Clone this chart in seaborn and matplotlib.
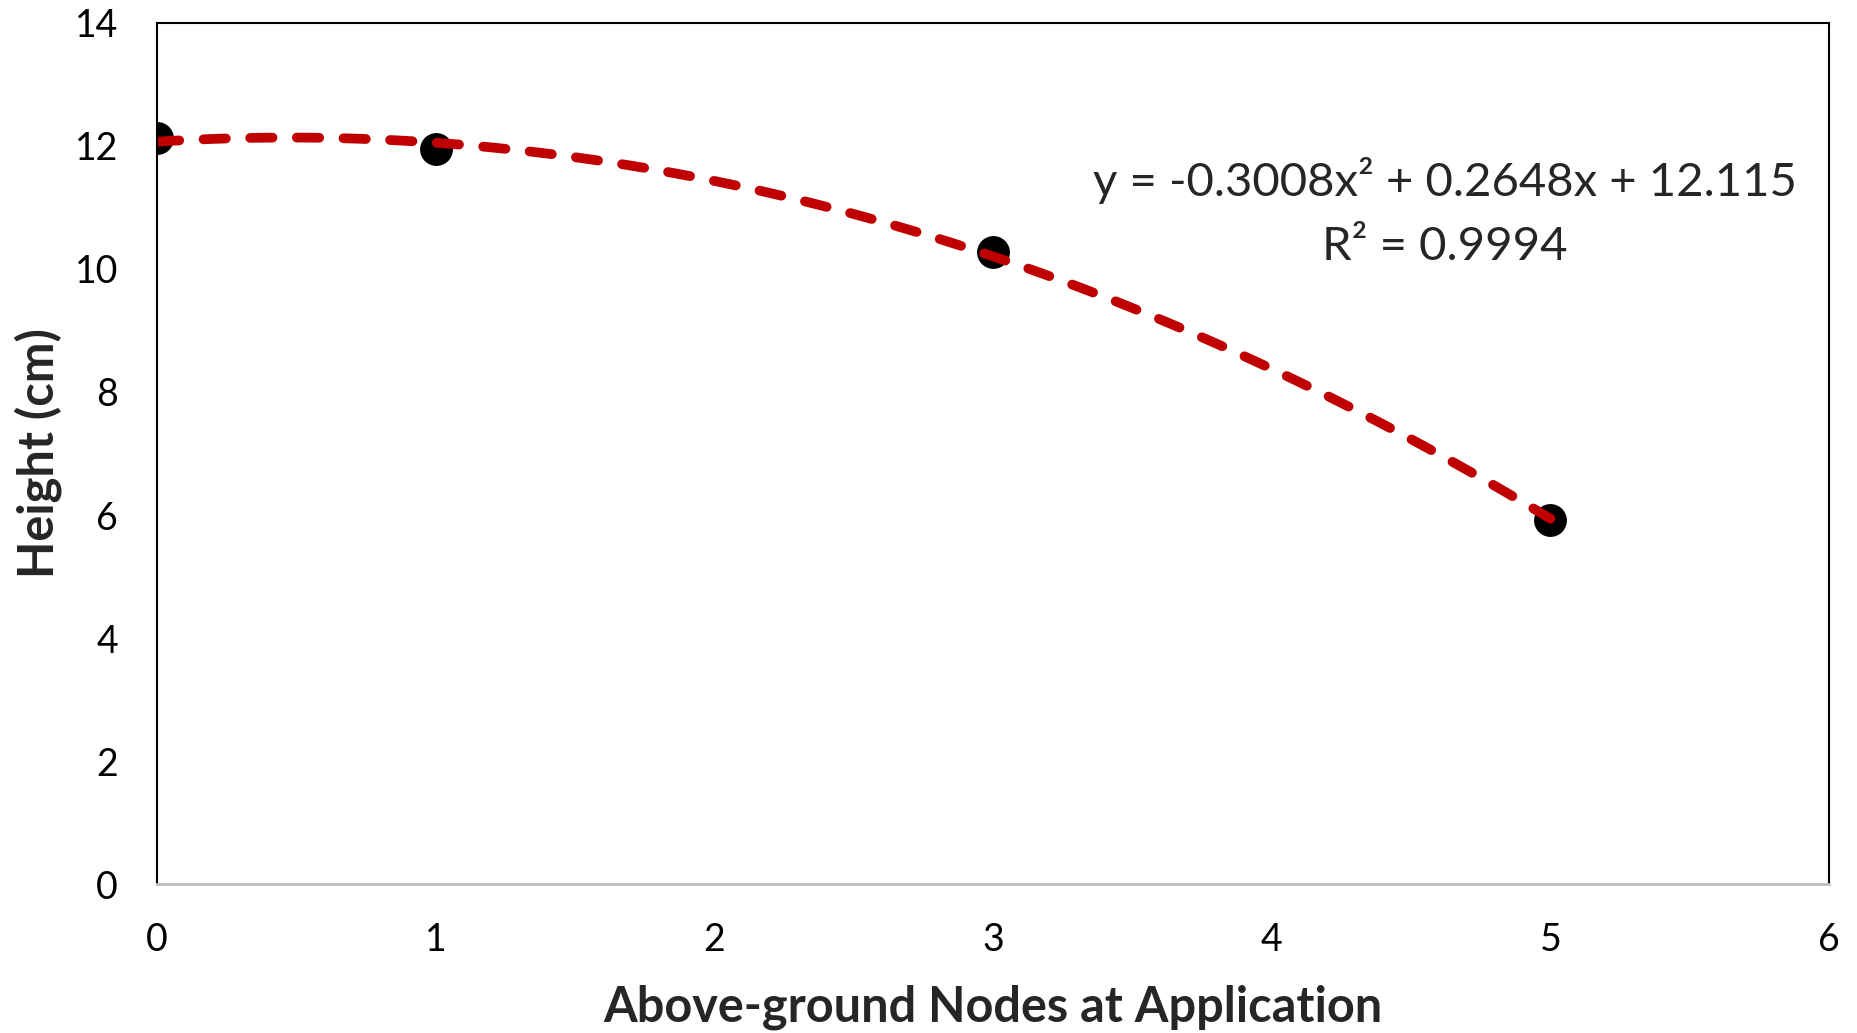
import pandas as pd
import numpy as np
import matplotlib
matplotlib.use("Agg")
import matplotlib.pyplot as plt
import seaborn as sns

# data
nodes = [0, 1, 3, 5]
height = [12.12, 11.95, 10.27, 5.92]
x_ticks = [0, 1, 2, 3, 4, 5, 6]
y_ticks = [0, 2, 4, 6, 8, 10, 12, 14]
equation = "y = -0.3008x² + 0.2648x + 12.115"
r_squared = "R² = 0.9994"

df = pd.DataFrame({"nodes": nodes, "height": height})

sns.set_style("white")
plt.rcParams["font.family"] = ["Lato", "DejaVu Sans"]

fig, ax = plt.subplots(figsize=(18.57, 10.33), dpi=100)
fig.subplots_adjust(left=0.0845, right=0.985, top=0.978, bottom=0.144)

sns.regplot(
    data=df, x="nodes", y="height", order=2, ci=None, ax=ax,
    scatter_kws={"s": 560, "color": "black", "alpha": 1, "linewidths": 0},
    line_kws={"color": "#C00000", "lw": 7, "dashes": (2.3, 2.5),
              "dash_capstyle": "round"},
)

ax.set_xlim(0, 6)
ax.set_ylim(0, 14)
ax.set_xticks(x_ticks)
ax.set_yticks(y_ticks)
ax.tick_params(axis="both", length=0, labelsize=27, colors="black")
ax.tick_params(axis="x", pad=27)
ax.tick_params(axis="y", pad=28)

for side in ["left", "top", "right"]:
    ax.spines[side].set_color("black")
    ax.spines[side].set_linewidth(1.5)
ax.spines["bottom"].set_color("#BFBFBF")
ax.spines["bottom"].set_linewidth(2)

ax.set_xlabel("Above-ground Nodes at Application", fontsize=35, fontweight="bold", labelpad=19)
ax.set_ylabel("Height (cm)", fontsize=35, fontweight="bold", labelpad=9)

ax.text(0.77, 0.78, equation + "\n" + r_squared, transform=ax.transAxes,
        ha="center", va="center", multialignment="center", fontsize=34,
        linespacing=1.65)

fig.savefig("out.png", dpi=100)
